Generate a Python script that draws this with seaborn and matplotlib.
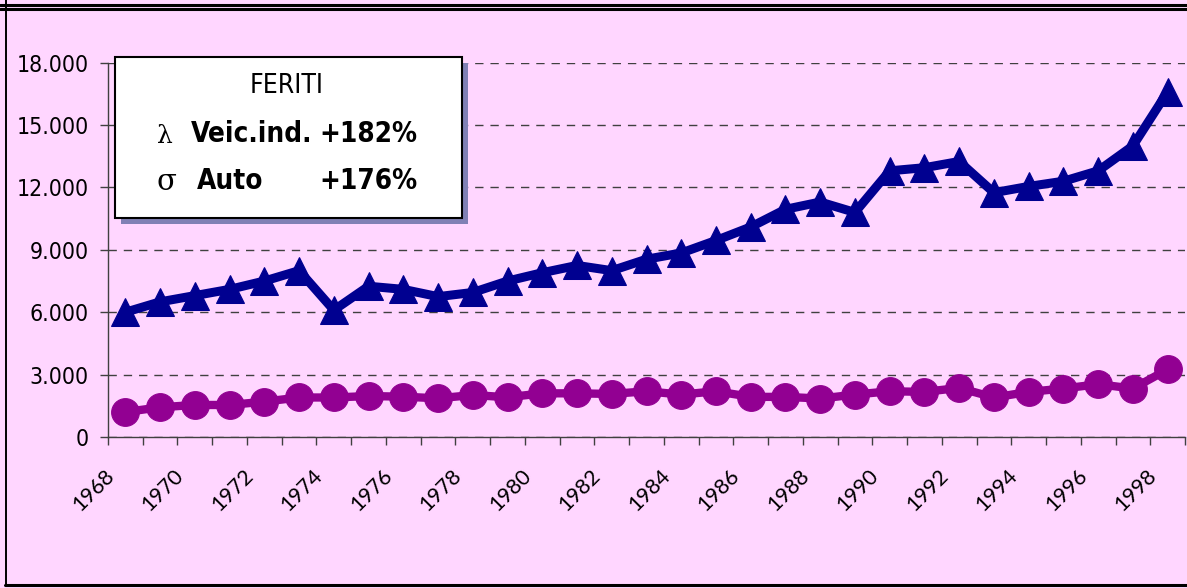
import matplotlib
matplotlib.use("Agg")
import matplotlib.pyplot as plt
import matplotlib.transforms as mtransforms
from matplotlib.patches import Rectangle
from matplotlib.lines import Line2D
import seaborn as sns
import pandas as pd

# ---------------- data ----------------
years = list(range(1968, 1999))
veic_ind = [6000, 6500, 6800, 7100, 7500, 8000, 6100, 7250, 7100, 6750, 6950,
            7500, 7900, 8250, 8000, 8550, 8850, 9450, 10100, 10950, 11300, 10800,
            12800, 12950, 13250, 11750, 12050, 12300, 12800, 14000, 16600]
auto = [1200, 1430, 1540, 1540, 1700, 1900, 1900, 1970, 1940, 1860, 2020,
        1910, 2100, 2100, 2070, 2200, 2040, 2200, 1930, 1930, 1850, 2040,
        2200, 2170, 2360, 1900, 2170, 2330, 2540, 2330, 3250]
ytick_values = [0, 3000, 6000, 9000, 12000, 15000, 18000]
ytick_labels = ["0", "3.000", "6.000", "9.000", "12.000", "15.000", "18.000"]
xtick_years = list(range(1968, 1999, 2))
title_text = "FERITI"
legend_rows = [("λ", "Veic.ind.", "+182%"), ("σ", "Auto", "+176%")]

# ---------------- style ----------------
BG = "#FFD6FF"
BLUE = "#000090"
PURPLE = "#920092"
W, H = 1187, 588
DPI = 100

sns.set_style("white")
plt.rcParams["font.family"] = ["DejaVu Sans"]
plt.rcParams["font.stretch"] = "condensed"
plt.rcParams["text.color"] = "black"
plt.rcParams["xtick.color"] = "black"
plt.rcParams["ytick.color"] = "black"

fig = plt.figure(figsize=(W / DPI, H / DPI), dpi=DPI, facecolor=BG)
left, right, top, bottom = 108, 1185, 62.7, 437
ax = fig.add_axes([left / W, 1 - bottom / H, (right - left) / W, (bottom - top) / H])
ax.set_facecolor(BG)

df = pd.DataFrame({"anno": years, "veic": veic_ind, "auto": auto})

sns.lineplot(data=df, x="anno", y="auto", ax=ax, color=PURPLE, linewidth=6,
             marker="o", markersize=20, markeredgecolor=PURPLE, zorder=3)
sns.lineplot(data=df, x="anno", y="veic", ax=ax, color=BLUE, linewidth=6.5,
             marker="^", markersize=20, markeredgecolor=BLUE, zorder=4)

ax.set_xlim(years[0] - 0.5, years[-1] + 0.5)
ax.set_ylim(0, 18000)
ax.set_xlabel("")
ax.set_ylabel("")

# grid
ax.yaxis.grid(True, color="#404040", linestyle=(0, (6, 5)), linewidth=1.0)
ax.xaxis.grid(False)
ax.set_axisbelow(True)

# spines
for s in ["top", "right"]:
    ax.spines[s].set_visible(False)
for s in ["left", "bottom"]:
    ax.spines[s].set_color("#404040")
    ax.spines[s].set_linewidth(1.0)

# y ticks
ax.set_yticks(ytick_values)
ax.set_yticklabels(ytick_labels, fontsize=16.5, color="black")
ax.tick_params(axis="y", direction="out", length=5.8, width=1, color="#404040",
               pad=8, left=True)

# x ticks: boundaries as minor ticks, labels at every other year
ax.set_xticks([y - 0.5 for y in years] + [years[-1] + 0.5], minor=True)
ax.set_xticks(xtick_years)
ax.set_xticklabels([str(y) for y in xtick_years])
ax.tick_params(axis="x", which="minor", direction="out", length=5.8, width=1,
               color="#404040", bottom=True)
ax.tick_params(axis="x", which="major", length=0, pad=0)
offset = mtransforms.ScaledTranslation(-32 / DPI, -53 / DPI, fig.dpi_scale_trans)
for lab in ax.get_xticklabels():
    lab.set_fontfamily(["Lato", "DejaVu Sans"])
    lab.set_fontstretch("normal")
    lab.set_fontsize(15.5)
    lab.set_color("black")
    lab.set_rotation(45)
    lab.set_rotation_mode("anchor")
    lab.set_ha("center")
    lab.set_va("center")
    lab.set_transform(lab.get_transform() + offset)

# ---------------- helpers in pixel space ----------------
def fx(x):
    return x / W

def fy(y):
    return 1 - y / H

# frame lines
for yy, lw in [(4.5, 2.2), (9.3, 2.2)]:
    fig.add_artist(Line2D([0, 1], [fy(yy), fy(yy)], color="black", linewidth=lw,
                          transform=fig.transFigure))
fig.add_artist(Line2D([fx(5.8), fx(5.8)], [fy(0), fy(585)], color="black",
                      linewidth=1.4, transform=fig.transFigure))
fig.add_artist(Line2D([fx(5), 1], [fy(584.5), fy(584.5)], color="black",
                      linewidth=2.2, transform=fig.transFigure))

# legend box with shadow
bx0, by0, bx1, by1 = 115, 57, 462, 218
sh = 6
fig.add_artist(Rectangle((fx(bx0 + sh), fy(by1 + sh)), (bx1 - bx0) / W, (by1 - by0) / H,
                         transform=fig.transFigure, facecolor="#8080B5",
                         edgecolor="none", zorder=5))
fig.add_artist(Rectangle((fx(bx0), fy(by1)), (bx1 - bx0) / W, (by1 - by0) / H,
                         transform=fig.transFigure, facecolor="white",
                         edgecolor="black", linewidth=1.5, zorder=6))

fig.text(fx(287), fy(93), title_text, ha="center", va="baseline", fontsize=19,
         zorder=7)
row_base = [142, 189]
sym_sizes = [18, 21]
name_x = [191, 197]
for (sym, name, pct), yb, ss, nx in zip(legend_rows, row_base, sym_sizes, name_x):
    fig.text(fx(157), fy(yb + 1), sym, ha="left", va="baseline", fontsize=ss,
             family=["DejaVu Serif"], fontstretch="normal", zorder=7)
    fig.text(fx(nx), fy(yb), name, ha="left", va="baseline", fontsize=20,
             fontweight="bold", zorder=7)
    fig.text(fx(417), fy(yb), pct, ha="right", va="baseline", fontsize=20,
             fontweight="bold", zorder=7)

fig.savefig("out.png", dpi=DPI, facecolor=BG)
